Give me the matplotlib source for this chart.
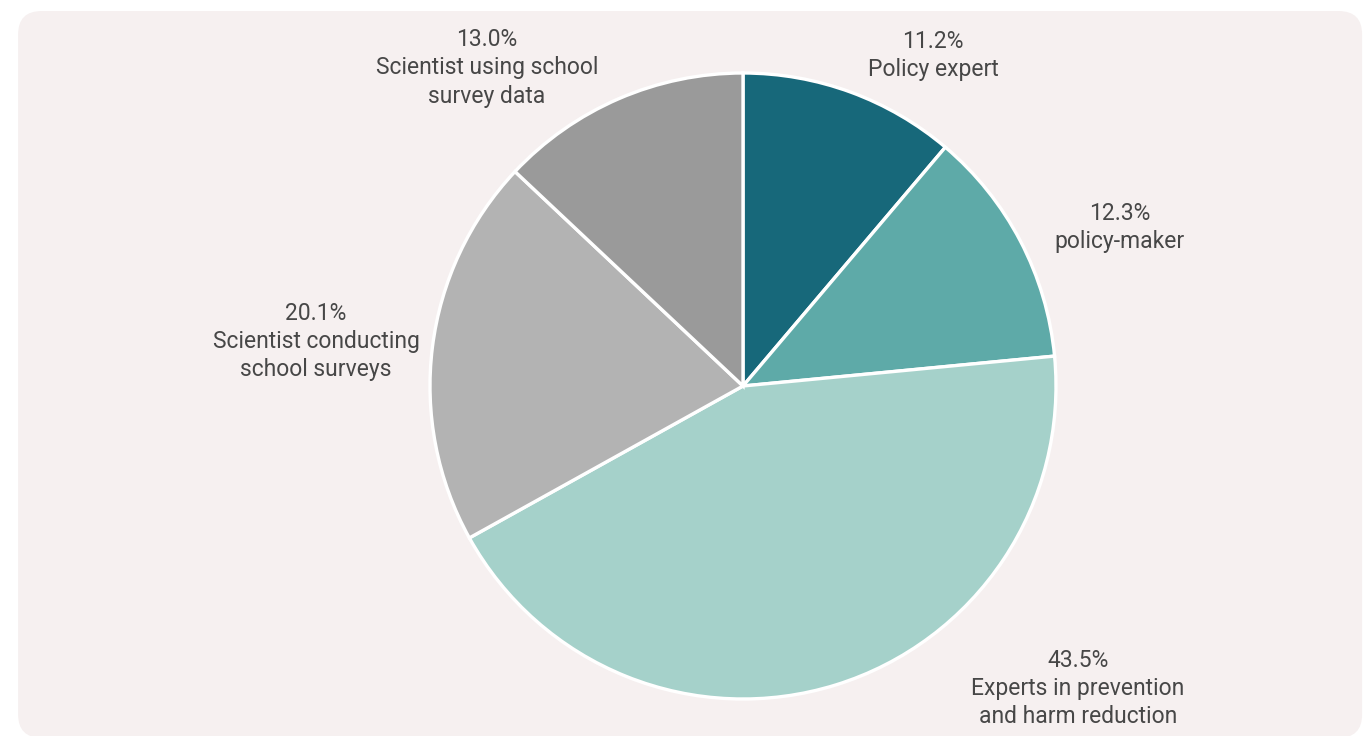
import matplotlib.pyplot as plt
from matplotlib.patches import FancyBboxPatch

plt.rcParams['font.family'] = ['Roboto', 'DejaVu Sans']

labels = ['Policy expert', 'policy-maker', 'Experts in prevention\nand harm reduction',
          'Scientist conducting\nschool surveys', 'Scientist using school\nsurvey data']
shares = [11.2, 12.3, 43.5, 20.1, 13.0]
colors = ['#17687a', '#5eaaa8', '#a5d1ca', '#b3b3b3', '#9a9a9a']

# label centres, in pie radius units
label_pos = [(0.607, 1.057), (1.204, 0.505), (1.070, -0.965),
             (-1.364, 0.141), (-0.818, 1.016)]

fig = plt.figure(figsize=(13.66, 7.36), dpi=100)
ax = fig.add_axes([0, 0, 1, 1])

# one unit = 313 px, pie centre at (743, 386) px
ax.pie(shares, colors=colors, startangle=90, counterclock=False, radius=1,
       wedgeprops=dict(edgecolor='white', linewidth=2.4))
ax.set_xlim(-743 / 313, (1366 - 743) / 313)
ax.set_ylim(-(736 - 386) / 313, 386 / 313)
ax.set_aspect('equal', adjustable='datalim')
ax.axis('off')

bg = FancyBboxPatch((-2.316, -1.124), 1.978 + 2.316, 1.198 + 1.124,
                    boxstyle='round,pad=0,rounding_size=0.075',
                    facecolor='#f6f0f0', edgecolor='none', zorder=-5,
                    clip_on=False)
ax.add_patch(bg)

for lab, val, (x, y) in zip(labels, shares, label_pos):
    ax.text(x, y, f'{val:.1f}%\n{lab}', ha='center', va='center',
            fontsize=16.5, fontweight='normal', color='#474747', linespacing=1.28)

fig.savefig('out.png', dpi=100, facecolor='white')
